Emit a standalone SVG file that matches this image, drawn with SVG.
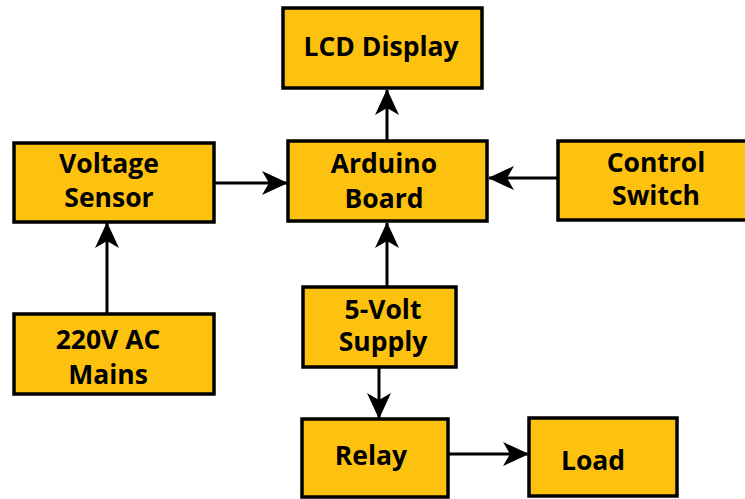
<svg xmlns="http://www.w3.org/2000/svg" width="745" height="499" viewBox="0 0 745 499">
<defs>
<style>
.box{fill:#FDC20F;stroke:#000;stroke-width:3.5}
.t{font-family:"Open Sans","Liberation Sans",sans-serif;font-weight:bold;font-size:26.5px;fill:#000;text-anchor:middle}
.c{stroke:#000;stroke-width:3;fill:none;marker-end:url(#ah)}
</style>
<marker id="ah" markerUnits="userSpaceOnUse" markerWidth="26" markerHeight="26" viewBox="0 0 26 26" refX="25" refY="13" orient="auto">
<path d="M0,1 L26,13 L0,25 L7,13 Z" fill="#000"/>
</marker>
</defs>
<rect width="745" height="499" fill="#fff"/>
<g id="connectors">
<line class="c" x1="387" y1="140" x2="387" y2="90"/>
<line class="c" x1="215" y1="183" x2="287" y2="183"/>
<line class="c" x1="107" y1="313" x2="107" y2="223"/>
<line class="c" x1="557" y1="178" x2="489" y2="178"/>
<line class="c" x1="387" y1="286" x2="387" y2="223"/>
<line class="c" x1="379" y1="368" x2="379" y2="418"/>
<line class="c" x1="449" y1="454" x2="528" y2="454"/>
</g>
<g id="lcd"><rect class="box" x="283" y="8" width="199" height="80"/><text class="t" x="381" y="56">LCD Display</text></g>
<g id="arduino"><rect class="box" x="288" y="141" width="199" height="80"/><text class="t" x="384" y="173">Arduino</text><text class="t" x="384" y="208">Board</text></g>
<g id="voltage-sensor"><rect class="box" x="14" y="143" width="200" height="79"/><text class="t" x="109" y="173">Voltage</text><text class="t" x="109" y="207">Sensor</text></g>
<g id="mains"><rect class="box" x="14" y="314" width="200" height="80"/><text class="t" x="108" y="349">220V AC</text><text class="t" x="108" y="384">Mains</text></g>
<g id="control-switch"><rect class="box" x="558" y="141" width="200" height="79"/><text class="t" x="656" y="172">Control</text><text class="t" x="656" y="205">Switch</text></g>
<g id="supply"><rect class="box" x="303" y="287" width="153" height="80"/><text class="t" x="383" y="319">5-Volt</text><text class="t" x="383" y="351">Supply</text></g>
<g id="relay"><rect class="box" x="302" y="419" width="146" height="78"/><text class="t" x="371" y="465">Relay</text></g>
<g id="load"><rect class="box" x="529" y="418" width="148" height="78"/><text class="t" x="593" y="470">Load</text></g>
</svg>
